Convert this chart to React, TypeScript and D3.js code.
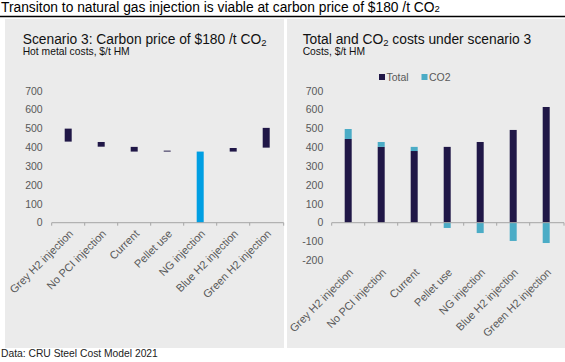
import React from "react";
import * as d3 from "d3";

const categories = [
  "Grey H2 injection",
  "No PCI injection",
  "Current",
  "Pellet use",
  "NG injection",
  "Blue H2 injection",
  "Green H2 injection",
];
// Left chart: floating bars (low, high)
const leftLow = [431, 404, 378, 378, 0, 378, 399];
const leftHigh = [500, 429, 403, 383, 378, 397, 504];
const leftHighlight = [false, false, false, false, true, false, false];
// Right chart
const totalValues = [445, 403, 381, 403, 429, 493, 615];
const co2Values = [53, 26, 22, -28, -55, -97, -108];
const leftTicks = [0, 100, 200, 300, 400, 500, 600, 700];
const rightTicks = [-200, -100, 0, 100, 200, 300, 400, 500, 600, 700];

const FONT = "'Liberation Sans', Arial, sans-serif";
const DARK = "#201747";
const BRIGHT = "#009fe3";
const CO2C = "#4bacc6";
const GRAY_TEXT = "#595959";
const AXIS = "#a6a6a6";

const y = d3.scaleLinear().domain([0, 700]).range([222.7, 91]);

function XAxis({ x, x0, x1, labelY }: { x: d3.ScaleBand<string>; x0: number; x1: number; labelY: number }) {
  const y0 = y(0);
  const bounds = categories.map((c) => x(c)!);
  bounds.push(x1);
  return (
    <g>
      <line x1={x0} x2={x1} y1={y0} y2={y0} stroke={AXIS} strokeWidth={1} />
      {bounds.map((b, i) => (
        <line key={i} x1={b} x2={b} y1={y0} y2={y0 + 3} stroke={AXIS} strokeWidth={1} />
      ))}
      {categories.map((c) => {
        const cx = x(c)! + x.bandwidth() / 2;
        return (
          <text
            key={c}
            transform={`translate(${cx + 3},${labelY}) rotate(-45)`}
            textAnchor="end"
            dy="0.35em"
            fontSize={11}
            fill={GRAY_TEXT}
            fontFamily={FONT}
          >
            {c}
          </text>
        );
      })}
    </g>
  );
}

function YAxis({ ticks, xr }: { ticks: number[]; xr: number }) {
  return (
    <g>
      {ticks.map((t) => (
        <text
          key={t}
          x={xr}
          y={y(t)}
          dy="0.35em"
          textAnchor="end"
          fontSize={10.5}
          fill={GRAY_TEXT}
          fontFamily={FONT}
        >
          {t}
        </text>
      ))}
    </g>
  );
}

export default function App() {
  const xl = d3.scaleBand<string>().domain(categories).range([51.7, 282.7]).padding(0);
  const xr = d3.scaleBand<string>().domain(categories).range([331.7, 562.7]).padding(0);
  const bw = 7;

  return (
    <div style={{ position: "fixed", left: 0, top: 0 }}>
      <svg width={565} height={362} style={{ display: "block", background: "#fff" }}>
        <text x={1} y={11.5} fontSize={13.8} fontFamily={FONT} fill="#000">
          Transiton to natural gas injection is viable at carbon price of $180 /t CO
          <tspan fontSize={9.5}>2</tspan>
        </text>
        <line x1={0} x2={565} y1={16.5} y2={16.5} stroke="#000" strokeWidth={1.3} />

        <rect x={5} y={19} width={279} height={329} fill="#ebebeb" />
        <rect x={287} y={19} width={278} height={329} fill="#ebebeb" />

        <text x={22.7} y={43.5} fontSize={13.8} fontFamily={FONT} fill="#111">
          Scenario 3: Carbon price of $180 /t CO
          <tspan fontSize={9.5} dy={2}>2</tspan>
        </text>
        <text x={22.7} y={54.5} fontSize={10.3} fontFamily={FONT} fill="#111">
          Hot metal costs, $/t HM
        </text>

        <text x={302.7} y={43.5} fontSize={13.8} fontFamily={FONT} fill="#111">
          Total and CO
          <tspan fontSize={9.5} dy={2}>2</tspan>
          <tspan dy={-2}> costs under scenario 3</tspan>
        </text>
        <text x={302.7} y={54.5} fontSize={10.3} fontFamily={FONT} fill="#111">
          Costs, $/t HM
        </text>

        {/* Left chart */}
        <YAxis ticks={leftTicks} xr={42.7} />
        {categories.map((c, i) => {
          const cx = xl(c)! + xl.bandwidth() / 2;
          return (
            <rect
              key={c}
              x={cx - bw / 2}
              y={y(leftHigh[i])}
              width={bw}
              height={y(leftLow[i]) - y(leftHigh[i])}
              fill={leftHighlight[i] ? BRIGHT : DARK}
            />
          );
        })}
        <XAxis x={xl} x0={51.7} x1={283.7} labelY={y(0) + 9} />

        {/* Right chart */}
        <YAxis ticks={rightTicks} xr={323.3} />
        {categories.map((c, i) => {
          const cx = xr(c)! + xr.bandwidth() / 2;
          const t = totalValues[i];
          const v = co2Values[i];
          const co2Top = v >= 0 ? y(t + v) : y(0);
          const co2Bot = v >= 0 ? y(t) : y(v);
          return (
            <g key={c}>
              <rect x={cx - bw / 2} y={y(t)} width={bw} height={y(0) - y(t)} fill={DARK} />
              <rect x={cx - bw / 2} y={co2Top} width={bw} height={co2Bot - co2Top} fill={CO2C} />
            </g>
          );
        })}
        <XAxis x={xr} x0={331.7} x1={564} labelY={y(-200) + 10} />

        {/* Legend */}
        <rect x={379} y={74} width={6} height={6} fill={DARK} />
        <text x={386.5} y={77} dy="0.35em" fontSize={10.5} fontFamily={FONT} fill={GRAY_TEXT}>
          Total
        </text>
        <rect x={421.5} y={74} width={6} height={6} fill={CO2C} />
        <text x={429} y={77} dy="0.35em" fontSize={10.5} fontFamily={FONT} fill={GRAY_TEXT}>
          CO2
        </text>

        <text x={1} y={357} fontSize={10.3} fontFamily={FONT} fill="#222">
          Data: CRU Steel Cost Model 2021
        </text>
      </svg>
    </div>
  );
}
